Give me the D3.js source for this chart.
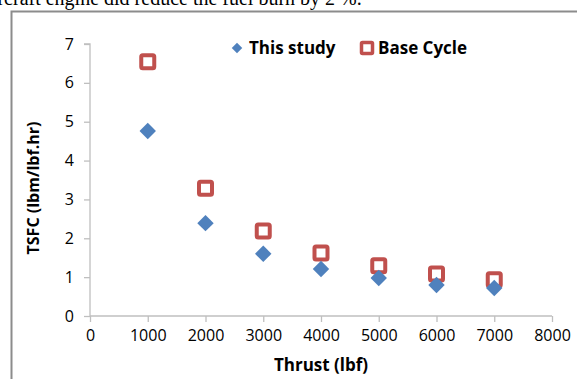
<!DOCTYPE html>
<html>
<head>
<meta charset="utf-8">
<script src="https://cdn.jsdelivr.net/npm/d3@7"></script>
<style>
  html, body { margin: 0; padding: 0; background: #fff; }
  svg { display: block; }
</style>
</head>
<body>
<svg id="chart" width="577" height="379"></svg>
<script>
const thrust = [1000, 2000, 3000, 4000, 5000, 6000, 7000];
const thisStudy = [4.76, 2.39, 1.60, 1.21, 0.98, 0.80, 0.72];
const baseCycle = [6.54, 3.29, 2.19, 1.62, 1.29, 1.08, 0.93];
const xTicks = [0, 1000, 2000, 3000, 4000, 5000, 6000, 7000, 8000];
const yTicks = [0, 1, 2, 3, 4, 5, 6, 7];
const seriesNames = ["This study", "Base Cycle"];

const svg = d3.select("#chart");
const font = "'Open Sans', sans-serif";

// surrounding document text (cut at the top, as in the reference)
svg.append("text")
  .attr("x", -17).attr("y", 5)
  .attr("font-family", "'Liberation Serif', 'Times New Roman', serif")
  .attr("font-size", 20)
  .attr("fill", "#000")
  .text("aircraft engine did reduce the fuel burn by 2 %.");

// frame of the figure
svg.append("path")
  .attr("d", "M11.5,379 L11.5,11.5 L577,11.5")
  .attr("fill", "none")
  .attr("stroke", "#8c8c8c")
  .attr("stroke-width", 2);

const x = d3.scaleLinear().domain([0, 8000]).range([90, 552]);
const y = d3.scaleLinear().domain([0, 7]).range([316, 44]);

const axisColor = "#bfbfbf";

const xAxis = svg.append("g")
  .attr("transform", `translate(0,${y(0)})`)
  .call(d3.axisBottom(x).tickValues(xTicks).tickSize(6).tickPadding(8).tickFormat(d3.format("d")));
const yAxis = svg.append("g")
  .attr("transform", `translate(${x(0)},0)`)
  .call(d3.axisLeft(y).tickValues(yTicks).tickSize(6).tickPadding(10).tickFormat(d3.format("d")));

[xAxis, yAxis].forEach(g => {
  g.select(".domain").attr("stroke", axisColor).attr("stroke-width", 1.3);
  g.selectAll(".tick line").attr("stroke", axisColor).attr("stroke-width", 1.3);
  g.selectAll(".tick text").attr("fill", "#000").attr("font-family", font).attr("font-size", 16);
});
yAxis.select(".domain").attr("d", `M${-6},${y(7)}H0V${y(0)}`);
xAxis.select(".domain").attr("d", `M${x(0)},0H${x(8000)}`);

// axis titles
svg.append("text")
  .attr("x", 321).attr("y", 371)
  .attr("text-anchor", "middle")
  .attr("font-family", font).attr("font-weight", "bold").attr("font-size", 17)
  .text("Thrust (lbf)");
svg.append("text")
  .attr("transform", "translate(39,188) rotate(-90)")
  .attr("text-anchor", "middle")
  .attr("font-family", font).attr("font-weight", "bold").attr("font-size", 16)
  .text("TSFC (lbm/lbf.hr)");

const blue = "#4f81bd";
const red = "#c0504d";

// Base cycle squares
svg.append("g").selectAll("rect")
  .data(thrust.map((t, i) => [t, baseCycle[i]]))
  .join("rect")
  .attr("x", d => x(d[0]) - 6.5)
  .attr("y", d => y(d[1]) - 6.5)
  .attr("width", 13).attr("height", 13)
  .attr("rx", 1.5)
  .attr("fill", "#fff")
  .attr("stroke", red).attr("stroke-width", 4);

// This study diamonds
svg.append("g").selectAll("path")
  .data(thrust.map((t, i) => [t, thisStudy[i]]))
  .join("path")
  .attr("transform", d => `translate(${x(d[0])},${y(d[1])}) rotate(45)`)
  .attr("d", d3.symbol().type(d3.symbolSquare).size(135))
  .attr("fill", blue);

// legend
const lg = svg.append("g").attr("font-family", font).attr("font-weight", "bold").attr("font-size", 17);
lg.append("path")
  .attr("transform", "translate(237,48) rotate(45)")
  .attr("d", d3.symbol().type(d3.symbolSquare).size(55))
  .attr("fill", blue);
lg.append("text").attr("x", 249).attr("y", 54).text(seriesNames[0]);
lg.append("rect")
  .attr("x", 361.5).attr("y", 42.5).attr("width", 11).attr("height", 11).attr("rx", 1)
  .attr("fill", "#fff").attr("stroke", red).attr("stroke-width", 3.5);
lg.append("text").attr("x", 378).attr("y", 54).text(seriesNames[1]);
</script>
</body>
</html>
